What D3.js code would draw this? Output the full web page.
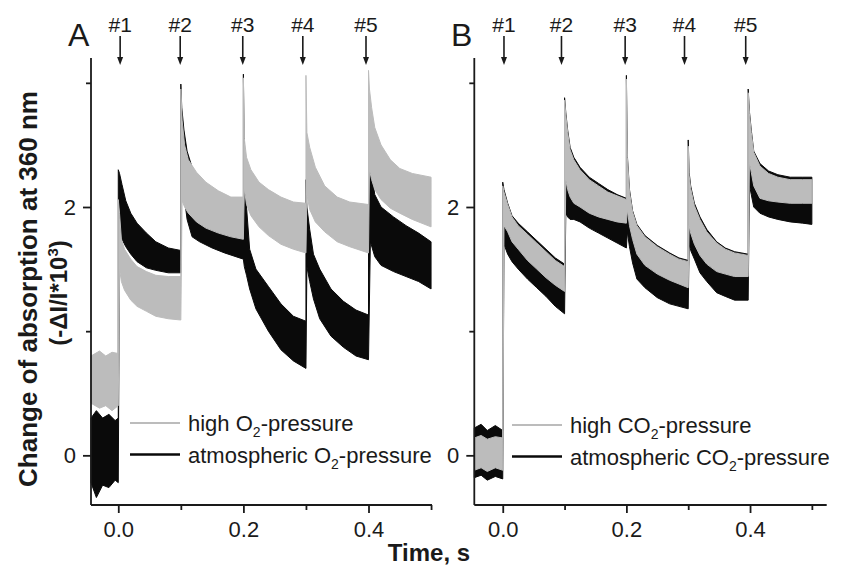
<!DOCTYPE html>
<html>
<head>
<meta charset="utf-8">
<script src="https://cdn.jsdelivr.net/npm/d3@7"></script>
<style>
	body { margin: 0; background: #fff; }
	svg { display: block; font-family: 'Liberation Sans', Arial, sans-serif; }
</style>
</head>
<body>
<svg id="chart" width="856" height="567"></svg>
<script>
// Noise envelopes: [time (s), lower edge, upper edge]
// Flash jumps are two rows with the same time
const highO2 = [
	[-0.0436, 0.42, 0.8], [-0.03, 0.38, 0.84], [-0.02, 0.4, 0.8], [-0.01, 0.36, 0.83], [0, 0.4, 0.82],
	[0, 0.4, 2.06], [0.002, 1.5, 1.95], [0.005, 1.4, 1.74], [0.01, 1.33, 1.66], [0.02, 1.25, 1.58],
	[0.03, 1.2, 1.52], [0.045, 1.16, 1.48], [0.06, 1.12, 1.45], [0.08, 1.1, 1.44], [0.1, 1.09, 1.44],
	[0.1, 1.09, 2.95], [0.102, 2.05, 2.7], [0.106, 2.0, 2.5], [0.112, 1.95, 2.38], [0.125, 1.88, 2.28],
	[0.14, 1.83, 2.2], [0.16, 1.79, 2.13], [0.18, 1.76, 2.08], [0.2, 1.74, 2.08],
	[0.2, 1.74, 3.04], [0.2015, 2.15, 2.55], [0.205, 2.02, 2.4], [0.212, 1.93, 2.3], [0.225, 1.84, 2.2],
	[0.24, 1.77, 2.14], [0.26, 1.7, 2.08], [0.28, 1.66, 2.04], [0.3, 1.63, 2.03],
	[0.3, 1.63, 3.06], [0.3015, 2.1, 2.6], [0.306, 1.98, 2.48], [0.315, 1.88, 2.32], [0.33, 1.8, 2.17],
	[0.35, 1.72, 2.08], [0.37, 1.68, 2.04], [0.4, 1.63, 2.02],
	[0.4, 1.63, 3.1], [0.4015, 2.3, 2.95], [0.405, 2.22, 2.8], [0.41, 2.14, 2.64], [0.42, 2.06, 2.5],
	[0.435, 1.99, 2.38], [0.45, 1.95, 2.31], [0.47, 1.9, 2.27], [0.5, 1.84, 2.24]
]

const atmO2 = [
	[-0.0436, -0.22, 0.3], [-0.035, -0.34, 0.36], [-0.025, -0.24, 0.3], [-0.015, -0.26, 0.33], [-0.005, -0.2, 0.28], [0, -0.22, 0.3],
	[0, -0.22, 2.3], [0.002, 1.78, 2.27], [0.006, 1.74, 2.18], [0.012, 1.68, 2.05], [0.02, 1.62, 1.95],
	[0.03, 1.56, 1.87], [0.045, 1.51, 1.79], [0.06, 1.49, 1.72], [0.08, 1.47, 1.67], [0.1, 1.47, 1.65],
	[0.1, 1.47, 2.99], [0.1015, 2.3, 2.8], [0.105, 2.1, 2.62], [0.11, 1.9, 2.45], [0.118, 1.76, 2.32],
	[0.13, 1.72, 2.2], [0.15, 1.67, 2.12], [0.17, 1.63, 2.06], [0.2, 1.58, 2.0],
	[0.2, 1.58, 3.07], [0.2015, 1.52, 2.38], [0.205, 1.45, 2.0], [0.21, 1.34, 1.66], [0.22, 1.18, 1.5],
	[0.24, 1.0, 1.36], [0.26, 0.85, 1.22], [0.28, 0.76, 1.12], [0.3, 0.7, 1.08],
	[0.3, 0.7, 2.22], [0.3015, 1.52, 2.0], [0.306, 1.4, 1.82], [0.312, 1.26, 1.62], [0.322, 1.1, 1.5],
	[0.34, 0.96, 1.34], [0.36, 0.87, 1.24], [0.38, 0.8, 1.17], [0.4, 0.77, 1.13],
	[0.4, 0.77, 2.4], [0.403, 1.72, 2.34], [0.41, 1.6, 2.1], [0.42, 1.53, 2.0], [0.44, 1.48, 1.92],
	[0.46, 1.44, 1.85], [0.48, 1.4, 1.79], [0.5, 1.34, 1.72]
]

const highCO2 = [
	[-0.046, -0.12, 0.14], [-0.035, -0.1, 0.16], [-0.025, -0.13, 0.13], [-0.012, -0.1, 0.15], [0, -0.12, 0.14],
	[0, -0.12, 2.17], [0.002, 1.85, 2.12], [0.008, 1.8, 2.02], [0.015, 1.72, 1.92], [0.025, 1.66, 1.85],
	[0.04, 1.57, 1.78], [0.055, 1.5, 1.71], [0.07, 1.43, 1.64], [0.085, 1.37, 1.57], [0.1, 1.32, 1.52],
	[0.1, 1.32, 2.86], [0.102, 2.22, 2.74], [0.105, 2.14, 2.6], [0.109, 2.08, 2.46], [0.115, 2.03, 2.38],
	[0.125, 2.0, 2.3], [0.14, 1.95, 2.22], [0.155, 1.92, 2.17], [0.17, 1.9, 2.12], [0.185, 1.88, 2.09], [0.2, 1.87, 2.06],
	[0.2, 1.87, 3.03], [0.2015, 1.98, 2.4], [0.205, 1.85, 2.12], [0.21, 1.74, 1.96], [0.217, 1.62, 1.85],
	[0.23, 1.53, 1.76], [0.25, 1.46, 1.68], [0.27, 1.41, 1.62], [0.285, 1.38, 1.58], [0.3, 1.35, 1.56],
	[0.3, 1.35, 2.49], [0.3015, 1.85, 2.25], [0.304, 1.79, 2.15], [0.31, 1.7, 2.01], [0.319, 1.61, 1.9],
	[0.33, 1.54, 1.8], [0.346, 1.48, 1.71], [0.36, 1.46, 1.66], [0.375, 1.44, 1.63], [0.397, 1.44, 1.61],
	[0.397, 1.44, 2.92], [0.399, 2.36, 2.75], [0.402, 2.28, 2.6], [0.406, 2.17, 2.44], [0.416, 2.07, 2.33],
	[0.43, 2.05, 2.27], [0.445, 2.04, 2.24], [0.465, 2.03, 2.22], [0.485, 2.03, 2.22], [0.5, 2.03, 2.22]
]

const atmCO2 = [
	[-0.046, -0.18, 0.22], [-0.035, -0.16, 0.25], [-0.025, -0.2, 0.2], [-0.012, -0.17, 0.24], [0, -0.19, 0.2],
	[0, -0.19, 2.2], [0.002, 1.7, 2.14], [0.008, 1.62, 2.03], [0.015, 1.56, 1.93], [0.025, 1.5, 1.87],
	[0.04, 1.42, 1.8], [0.055, 1.35, 1.73], [0.07, 1.28, 1.66], [0.085, 1.2, 1.59], [0.1, 1.14, 1.54],
	[0.1, 1.14, 2.88], [0.102, 1.95, 2.76], [0.105, 1.92, 2.62], [0.109, 1.9, 2.48], [0.115, 1.9, 2.4],
	[0.125, 1.88, 2.32], [0.14, 1.83, 2.24], [0.155, 1.79, 2.19], [0.17, 1.75, 2.14], [0.185, 1.71, 2.1], [0.2, 1.67, 2.07],
	[0.2, 1.67, 3.06], [0.2015, 1.8, 2.42], [0.205, 1.68, 2.14], [0.21, 1.55, 1.97], [0.217, 1.42, 1.86],
	[0.23, 1.35, 1.77], [0.25, 1.27, 1.69], [0.27, 1.22, 1.63], [0.285, 1.2, 1.59], [0.3, 1.18, 1.57],
	[0.3, 1.18, 2.54], [0.3015, 1.7, 2.28], [0.304, 1.65, 2.17], [0.31, 1.58, 2.03], [0.319, 1.47, 1.92],
	[0.33, 1.4, 1.82], [0.346, 1.31, 1.72], [0.36, 1.28, 1.67], [0.375, 1.25, 1.64], [0.397, 1.25, 1.62],
	[0.397, 1.25, 2.95], [0.399, 2.18, 2.77], [0.402, 2.1, 2.62], [0.406, 2.0, 2.45], [0.416, 1.95, 2.35],
	[0.43, 1.92, 2.29], [0.445, 1.9, 2.26], [0.465, 1.88, 2.24], [0.485, 1.87, 2.24], [0.5, 1.86, 2.24]
]

// Flash markers and tick values
const flashLabels = ['#1', '#2', '#3', '#4', '#5']
const flashTimesA = [0.003, 0.099, 0.199, 0.295, 0.396]
const flashTimesB = [0.002, 0.095, 0.198, 0.294, 0.393]
const xMajor = [0, 0.2, 0.4]
const xMinor = [0.1, 0.3, 0.5]
const yMajor = [0, 2]
const yMinor = [1, 3]

const grey = '#bcbcbc'
const black = '#0a0a0a'
const ink = '#1a1a1a'

const svg = d3.select('#chart')
const y = d3.scaleLinear().domain([-0.4, 3.2]).range([505, 58])

//Draws one panel with its traces, axes, flash arrows and legend
function drawPanel(p) {
	const x = d3.scaleLinear().domain(p.domain).range(p.range)
	const g = svg.append('g')

	const area = d3
		.area()
		.x(d => x(d[0]))
		.y0(d => y(d[1]))
		.y1(d => y(d[2]))

	//black trace first, the grey one sits on top of it
	;[
		[p.atm, black],
		[p.high, grey],
	].forEach(([data, color]) => {
		g.append('path')
			.datum(data)
			.attr('d', area)
			.attr('fill', color)
			.attr('stroke', color)
			.attr('stroke-width', 1)
			.attr('stroke-linejoin', 'round')
	})

	//y axis: labelled major ticks and short minor ones
	const yAxis = g
		.append('g')
		.attr('transform', 'translate(' + p.range[0] + ',0)')
		.call(d3.axisLeft(y).tickValues(yMajor).tickSize(8).tickPadding(7).tickSizeOuter(0).tickFormat(d3.format('d')))
	g.append('g')
		.attr('transform', 'translate(' + p.range[0] + ',0)')
		.call(d3.axisLeft(y).tickValues(yMinor).tickSize(5).tickSizeOuter(0).tickFormat(''))
		.select('.domain')
		.remove()

	const xAxis = g
		.append('g')
		.attr('transform', 'translate(0,505)')
		.call(
			d3
				.axisBottom(x)
				.tickValues(xMajor)
				.tickSize(8)
				.tickPadding(8)
				.tickSizeOuter(0)
				.tickFormat(d3.format('.1f'))
		)
	g.append('g')
		.attr('transform', 'translate(0,505)')
		.call(d3.axisBottom(x).tickValues(xMinor).tickSize(5).tickSizeOuter(0).tickFormat(''))
		.select('.domain')
		.remove()

	//extend the axis lines to the panel corners
	yAxis.select('.domain').attr('d', 'M0,' + 58 + 'V505')
	xAxis.select('.domain').attr('d', 'M' + p.range[0] + ',0H' + p.range[1])

	g.selectAll('.domain, .tick line').attr('stroke', ink).attr('stroke-width', 1.8)
	g.selectAll('.tick text').attr('fill', ink).style('font-size', '22px').style('font-family', null)

	//panel letter
	g.append('text')
		.attr('x', p.letterX)
		.attr('y', 46)
		.attr('fill', ink)
		.style('font-size', '32px')
		.text(p.letter)

	//flash arrows with their numbers
	const arrows = g
		.selectAll(null)
		.data(p.flashes)
		.enter()
		.append('g')
		.attr('transform', d => 'translate(' + x(d) + ',0)')

	arrows.append('line').attr('y1', 36).attr('y2', 59).attr('stroke', ink).attr('stroke-width', 1.6)
	arrows.append('path').attr('d', 'M-3,57L3,57L0,65Z').attr('fill', ink)
	arrows
		.append('text')
		.attr('y', 32)
		.attr('text-anchor', 'middle')
		.attr('fill', ink)
		.style('font-size', '21px')
		.text((d, i) => flashLabels[i])

	//legend
	const legend = g.append('g').attr('transform', 'translate(' + p.legendX + ',' + p.legendY + ')')
	const entries = legend
		.selectAll(null)
		.data(p.legend)
		.enter()
		.append('g')
		.attr('transform', (d, i) => 'translate(0,' + i * 31.5 + ')')

	entries
		.append('line')
		.attr('x1', 0)
		.attr('x2', 50)
		.attr('stroke', (d, i) => (i === 0 ? grey : black))
		.attr('stroke-width', (d, i) => (i === 0 ? 2 : 2.6))

	const label = entries.append('text').attr('x', 58).attr('y', 8).attr('fill', ink).style('font-size', '22px')
	label.append('tspan').text(d => d[0])
	label.append('tspan').attr('dy', 6).style('font-size', '14px').text('2')
	label.append('tspan').attr('dy', -6).text('-pressure')
}

drawPanel({
	domain: [-0.0436, 0.5015],
	range: [91, 432],
	high: highO2,
	atm: atmO2,
	flashes: flashTimesA,
	letter: 'A',
	letterX: 68,
	legendX: 130,
	legendY: 423,
	legend: [['high O'], ['atmospheric O']],
})

drawPanel({
	domain: [-0.046, 0.524],
	range: [474.3, 826.7],
	high: highCO2,
	atm: atmCO2,
	flashes: flashTimesB,
	letter: 'B',
	letterX: 451,
	legendX: 512,
	legendY: 425,
	legend: [['high CO'], ['atmospheric CO']],
})

//shared axis titles
const yTitle = svg.append('g').attr('fill', ink).style('font-weight', 'bold')
yTitle
	.append('text')
	.attr('transform', 'translate(37,289) rotate(-90)')
	.attr('text-anchor', 'middle')
	.style('font-size', '26px')
	.text('Change of absorption at 360 nm')

const yUnit = yTitle
	.append('text')
	.attr('transform', 'translate(67,293) rotate(-90)')
	.attr('text-anchor', 'middle')
	.style('font-size', '24px')
yUnit.append('tspan').text('(-ΔI/I*10')
yUnit.append('tspan').attr('dy', -9).style('font-size', '15px').text('3')
yUnit.append('tspan').attr('dy', 9).text(')')

svg.append('text')
	.attr('x', 429)
	.attr('y', 561)
	.attr('text-anchor', 'middle')
	.attr('fill', ink)
	.style('font-weight', 'bold')
	.style('font-size', '24px')
	.text('Time, s')
</script>
</body>
</html>
